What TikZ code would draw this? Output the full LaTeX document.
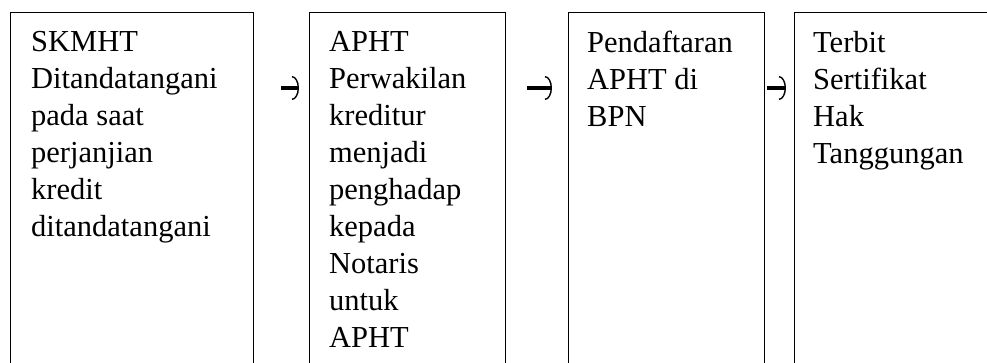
\documentclass[tikz,border=0pt]{standalone}
\usepackage{fontspec}
\setmainfont{Liberation Serif}
\usetikzlibrary{arrows.meta}

\begin{document}
\begin{tikzpicture}[x=1pt,y=1pt,
                    stage box/.style={draw,line width=0.9pt,minimum height=420pt,anchor=north west,inner sep=0pt},
                    stage text/.style={anchor=north west,align=left,inner sep=0pt,
                      font=\fontsize{30.5}{37}\selectfont},
                    flow/.style={line width=3.2pt,
                      postaction={draw,line width=1.4pt,-{Arc Barb[length=7pt,width=24pt]}}}]

  \useasboundingbox (0,0) rectangle (987,-363);

  \node[stage box,minimum width=243pt] (skmht) at (10,-12) {};
  \node[stage box,minimum width=196pt] (apht) at (309,-12) {};
  \node[stage box,minimum width=196pt] (bpn) at (568,-12) {};
  \node[stage box,minimum width=230pt] (terbit) at (794,-12) {};

  \node[stage text] (t1) at ([xshift=21pt,yshift=-19pt]skmht.north west)
    {SKMHT\\Ditandatangani\\pada saat\\perjanjian\\kredit\\ditandatangani};
  \node[stage text] (t2) at ([xshift=20pt,yshift=-19pt]apht.north west)
    {APHT\\Perwakilan\\kreditur\\menjadi\\penghadap\\kepada\\Notaris\\untuk\\APHT};
  \node[stage text] (t3) at ([xshift=19pt,yshift=-19pt]bpn.north west)
    {Pendaftaran\\APHT di\\BPN};
  \node[stage text] (t4) at ([xshift=19pt,yshift=-19pt]terbit.north west)
    {Terbit\\Sertifikat\\Hak\\Tanggungan};

  \coordinate (mid) at (0,-88);

  \draw[flow,shorten <=27pt,shorten >=10pt] (skmht.east |- mid) -- (apht.west |- mid);
  \draw[flow,shorten <=21pt,shorten >=16pt] (apht.east |- mid) -- (bpn.west |- mid);
  \draw[flow,shorten <=2pt,shorten >=8pt] (bpn.east |- mid) -- (terbit.west |- mid);
\end{tikzpicture}
\end{document}
